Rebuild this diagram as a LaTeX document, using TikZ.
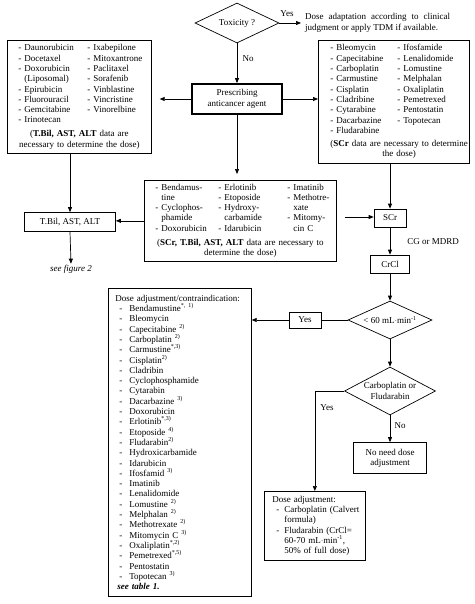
\documentclass[tikz,border=0pt]{standalone}
\usepackage{fontspec}
\setmainfont{Liberation Serif}
\usetikzlibrary{shapes.geometric,arrows.meta}
\setlength{\lineskiplimit}{-3pt}

\newcommand{\itm}[1]{\mbox{- #1}}
\newcommand{\cnt}[1]{\mbox{\hphantom{- }#1}}
\newcommand{\bitm}[1]{\mbox{\hspace*{4pt}\makebox[10pt][l]{-}#1}}
\newcommand{\dl}[1]{\mbox{\hspace*{4pt}\makebox[8pt][l]{-}#1}}
\newcommand{\dc}[1]{\mbox{\hspace*{12pt}#1}}
\newcommand{\sps}[1]{\textsuperscript{#1}}

\tikzset{
  every node/.style={font=\fontsize{9}{10.3}\selectfont},
  box/.style={draw, line width=0.7pt, inner sep=0pt, align=center},
  listbox/.style={draw, line width=0.7pt, anchor=north west, align=left, inner ysep=0pt},
  diam/.style={draw, shape=diamond, aspect=2, line width=0.7pt, inner sep=0pt, align=center},
  lbl/.style={inner sep=1pt},
  arr/.style={-{Triangle[length=5pt,width=4pt]}, line width=0.7pt},
  ln/.style={line width=0.7pt}
}

\begin{document}
\begin{tikzpicture}[x=1pt,y=1pt,yscale=-1]
\useasboundingbox (0,0) rectangle (474,604);

%Shape: Diamond
\node[diam, minimum width=84pt, minimum height=40pt] (tox) at (237,23) {Toxicity ?};
% Text Node
\node[lbl] (yes1) at (287,14) {Yes};
% Text Node
\node[lbl, anchor=west, text width=145pt, align=justify, inner xsep=4pt] (adapt) at (301,23) {Dose adaptation according to clinical judgment or apply TDM if available.};
% Text Node
\node[lbl] (no1) at (248,59) {No};
%Shape: Rectangle
\node[box, line width=1.8pt, minimum width=90pt, minimum height=30pt] (presc) at (237,99) {Prescribing\\anticancer agent};

%Shape: Rectangle
\node[listbox, text width=122pt, inner xsep=11pt, minimum height=113pt] (hepbox) at (7,40) {%
\begin{tabular}{@{}p{69pt}@{}p{53pt}@{}}
\itm{Daunorubicin} & \itm{Ixabepilone}\\
\itm{Docetaxel} & \itm{Mitoxantrone}\\
\itm{Doxorubicin} & \itm{Paclitaxel}\\
\cnt{(Liposomal)} & \itm{Sorafenib}\\
\itm{Epirubicin} & \itm{Vinblastine}\\
\itm{Fluorouracil} & \itm{Vincristine}\\
\itm{Gemcitabine} & \itm{Vinorelbine}\\
\itm{Irinotecan} & \\[3.5pt]
\multicolumn{2}{@{}c@{}}{(\textbf{T.Bil, AST, ALT} data are}\\
\multicolumn{2}{@{}c@{}}{necessary to determine the dose)}
\end{tabular}};

%Shape: Rectangle
\node[listbox, text width=127pt, inner xsep=12pt, minimum height=123pt] (renbox) at (318,40) {%
\begin{tabular}{@{}p{67pt}@{}p{60pt}@{}}
\itm{Bleomycin} & \itm{Ifosfamide}\\
\itm{Capecitabine} & \itm{Lenalidomide}\\
\itm{Carboplatin} & \itm{Lomustine}\\
\itm{Carmustine} & \itm{Melphalan}\\
\itm{Cisplatin} & \itm{Oxaliplatin}\\
\itm{Cladribine} & \itm{Pemetrexed}\\
\itm{Cytarabine} & \itm{Pentostatin}\\
\itm{Dacarbazine} & \itm{Topotecan}\\
\itm{Fludarabine} & \\[3pt]
\multicolumn{2}{@{}c@{}}{(\textbf{SCr} data are necessary to determine}\\
\multicolumn{2}{@{}c@{}}{the dose)}
\end{tabular}};

%Shape: Rectangle
\node[listbox, text width=170pt, inner xsep=11pt, minimum height=81pt] (bothbox) at (144,180) {%
\begin{tabular}{@{}p{63pt}@{}p{69pt}@{}p{38pt}@{}}
\itm{Bendamus-} & \itm{Erlotinib} & \itm{Imatinib}\\
\cnt{tine} & \itm{Etoposide} & \itm{Methotre-}\\
\itm{Cyclophos-} & \itm{Hydroxy-} & \cnt{xate}\\
\cnt{phamide} & \cnt{carbamide} & \itm{Mitomy-}\\
\itm{Doxorubicin} & \itm{Idarubicin} & \cnt{cin C}\\[4pt]
\multicolumn{3}{@{}c@{}}{(\textbf{SCr, T.Bil, AST, ALT} data are necessary to}\\
\multicolumn{3}{@{}c@{}}{determine the dose)}
\end{tabular}};

%Shape: Rectangle
\node[box, minimum width=91pt, minimum height=19pt] (tbil) at (70,222) {T.Bil, AST, ALT};
% Text Node
\node[lbl] (seefig) at (71,269) {\textit{see figure 2}};

%Shape: Rectangle
\node[box, minimum width=32pt, minimum height=18pt] (scr) at (390,218) {SCr};
\coordinate (scrin) at (345,217);
% Text Node
\node[lbl] (cgmdrd) at (433,242) {CG or MDRD};
%Shape: Rectangle
\node[box, minimum width=39pt, minimum height=18pt] (crcl) at (390,264) {CrCl};
%Shape: Diamond
\node[diam, aspect=2.2, minimum width=84pt, minimum height=38pt] (lt60) at (390,320) {< 60 mL$\cdot$min\sps{-1}};
%Shape: Rectangle
\node[box, minimum width=32pt, minimum height=16pt] (yes2) at (305,320) {Yes};
%Shape: Diamond
\node[diam, aspect=1.9, minimum width=91pt, minimum height=48pt] (carbo) at (390,391) {Carboplatin or\\Fludarabin};
% Text Node
\node[lbl] (no2) at (400,426) {No};
% Text Node
\node[lbl] (yes3) at (327,408) {Yes};
%Shape: Rectangle
\node[box, minimum width=73pt, minimum height=31pt] (noneed) at (390,458) {No need dose\\adjustment};

%Shape: Rectangle
\node[listbox, text width=129pt, inner xsep=7pt, minimum height=308pt] (adjbox) at (108,288) {Dose adjustment/contraindication:\\
\bitm{Bendamustine\sps{*, 1)}}\\
\bitm{Bleomycin}\\
\bitm{Capecitabine \sps{2)}}\\
\bitm{Carboplatin \sps{2)}}\\
\bitm{Carmustine\sps{*,3)}}\\
\bitm{Cisplatin\sps{2)}}\\
\bitm{Cladribin}\\
\bitm{Cyclophosphamide}\\
\bitm{Cytarabin}\\
\bitm{Dacarbazine \sps{3)}}\\
\bitm{Doxorubicin}\\
\bitm{Erlotinib\sps{*,3)}}\\
\bitm{Etoposide \sps{4)}}\\
\bitm{Fludarabin\sps{2)}}\\
\bitm{Hydroxicarbamide}\\
\bitm{Idarubicin}\\
\bitm{Ifosfamid \sps{3)}}\\
\bitm{Imatinib}\\
\bitm{Lenalidomide}\\
\bitm{Lomustine \sps{2)}}\\
\bitm{Melphalan \sps{2)}}\\
\bitm{Methotrexate \sps{2)}}\\
\bitm{Mitomycin C \sps{3)}}\\
\bitm{Oxaliplatin\sps{*,2)}}\\
\bitm{Pemetrexed\sps{*,5)}}\\
\bitm{Pentostatin}\\
\bitm{Topotecan \sps{3)}}\\
\mbox{\hspace*{2pt}\textbf{\textit{see table 1.}}}};

%Shape: Rectangle
\node[listbox, text width=85pt, inner xsep=8pt, minimum height=69pt] (carbobox) at (264,491) {Dose adjustment:\\
\dl{Carboplatin (Calvert}\\
\dc{formula)}\\
\dl{Fludarabin (CrCl=}\\
\dc{60-70 mL$\cdot$min\sps{-1},}\\
\dc{50\% of full dose)}};

%Straight Lines
\draw[arr] (tox.east) -- (adapt.west);
\draw[arr] (tox.south) -- (presc.north);
\draw[arr, shorten >=8pt] (presc.west) -- (presc.west -| hepbox.east);
\draw[arr] (presc.east) -- (presc.east -| renbox.west);
\draw[arr, shorten >=6pt] (presc.south) -- (presc.south |- bothbox.north);
\draw[arr] (hepbox.south -| tbil.north) -- (tbil.north);
\draw[arr] (bothbox.west) -- (bothbox.west -| tbil.east);
\draw[arr] (tbil.south) -- (seefig.north);
\draw[arr] (renbox.south -| scr.north) -- (scr.north);
\draw[arr] (scrin) -- (scrin -| scr.west);
\draw[arr] (scr.south) -- (crcl.north);
\draw[arr] (crcl.south) -- (lt60.north);
\draw[ln] (lt60.west) -- (yes2.east);
\draw[arr] (yes2.west) -- (yes2.west -| adjbox.east);
\draw[arr] (lt60.south) -- (carbo.north);
\draw[arr] (carbo.south) -- (noneed.north);
\draw[arr] (carbo.west) -| (carbobox.north);

\end{tikzpicture}
\end{document}
